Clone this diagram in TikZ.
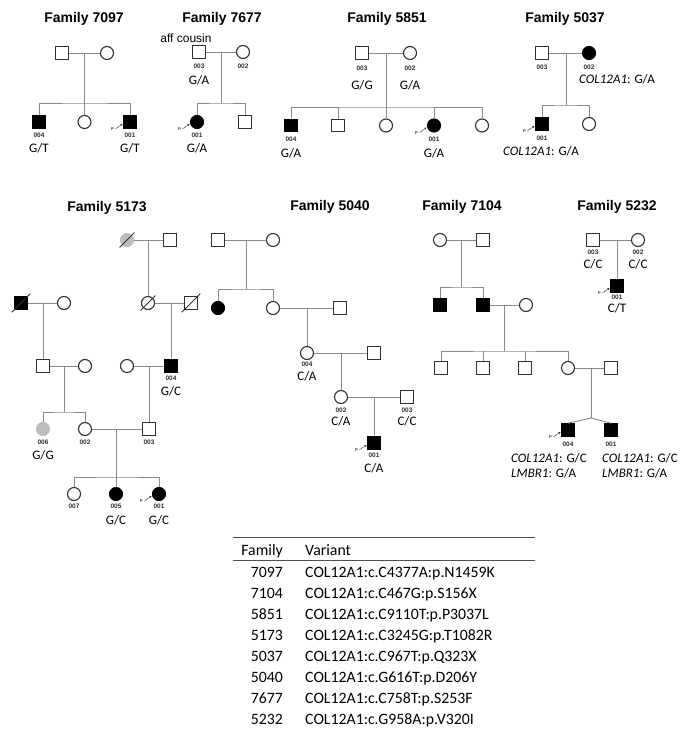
\documentclass[tikz,border=0pt]{standalone}
\usepackage{fontspec}
\setmainfont{Carlito}
\newfontfamily\arialf{Liberation Sans}
\usetikzlibrary{calc,arrows.meta}
\definecolor{connc}{HTML}{8A8A8A}
\definecolor{symb}{HTML}{303030}
\definecolor{grayfill}{HTML}{BDBDBD}
\tikzset{
  male/.style={rectangle,draw=symb,line width=1.1pt,minimum size=12.5pt,inner sep=0pt,fill=white},
  female/.style={circle,draw=symb,line width=1.1pt,minimum size=13pt,inner sep=0pt,fill=white},
  affected/.style={fill=black,draw=black},
  grayed/.style={fill=grayfill,draw=grayfill},
  rel/.style={draw=connc,line width=0.9pt},
  slash/.style={draw=symb,line width=0.9pt},
  ftitle/.style={font=\arialf\bfseries\fontsize{14}{16}\selectfont,inner sep=0pt},
  note/.style={font=\arialf\fontsize{12}{14}\selectfont,inner sep=0pt},
  idl/.style={font=\arialf\bfseries\fontsize{6.5}{7}\selectfont,text=symb,inner sep=0pt},
  geno/.style={font=\fontsize{13}{15}\selectfont,inner sep=0pt},
  tabt/.style={font=\fontsize{15.8}{18}\selectfont,inner sep=0pt},
  pletter/.style={font=\arialf\bfseries\fontsize{4}{4}\selectfont,inner sep=0pt,text=symb},
  parrow/.style={draw=symb,line width=0.6pt,dash pattern=on 1pt off 0.7pt,-{Stealth[length=2.5pt,width=2.2pt]}},
  rulel/.style={draw=symb!85,line width=1.1pt}
}
\newcommand\proband[1]{%
  \node[pletter] (#1P) at ($(#1)+(-17.5,7.5)$) {P};
  \draw[parrow] ($(#1)+(-14.5,7)$) -- ($(#1)+(-7.5,2)$);}
\newcommand\deceased[1]{%
  \draw[slash] ($(#1.south west)+(-2.5,2.5)$) -- ($(#1.north east)+(2.5,-2.5)$);}
\begin{document}
\begin{tikzpicture}[x=1pt,y=-1pt]
\useasboundingbox (0,0) rectangle (682,730);
\fill[white] (0,0) rectangle (682,730);

% ---------------- Family 7097
\node[ftitle] (t7097) at (84,19) {Family 7097};
\node[male] (a1) at (62,53) {};
\node[female] (a2) at (107,53) {};
\node[male,affected] (a3) at (39,122) {};
\node[female] (a4) at (84.5,122) {};
\node[male,affected] (a5) at (130,122) {};
\coordinate (am) at (84.5,53);
\coordinate (as) at (84.5,103);
\draw[rel] (a1) -- (a2);
\draw[rel] (am) -- (as);
\draw[rel] (a3.north) |- (as) -| (a5.north);
\draw[rel] (as) -- (a4.north);
\node[idl] (a3i) at (39,135) {004};
\node[idl] (a5i) at (130,135) {001};
\node[geno] (a3g) at (39,148) {G/T};
\node[geno] (a5g) at (130,148) {G/T};
\proband{a5}

% ---------------- Family 7677
\node[ftitle] (t7677) at (222,19) {Family 7677};
\node[note] (b0) at (186,38) {aff cousin};
\node[male] (b1) at (199,52) {};
\node[female] (b2) at (243,52) {};
\node[female,affected] (b3) at (197,122) {};
\node[male] (b4) at (245,122) {};
\coordinate (bm) at (221,52);
\coordinate (bs) at (221,103);
\draw[rel] (b1) -- (b2);
\draw[rel] (bm) -- (bs);
\draw[rel] (b3.north) |- (bs) -| (b4.north);
\node[idl] (b1i) at (199,66) {003};
\node[idl] (b2i) at (243,66) {002};
\node[geno] (b1g) at (199,80) {G/A};
\node[idl] (b3i) at (197,135) {001};
\node[geno] (b3g) at (197,148) {G/A};
\proband{b3}

% ---------------- Family 5851
\node[ftitle] (t5851) at (387,19) {Family 5851};
\node[male] (c1) at (362,53) {};
\node[female] (c2) at (410,53) {};
\node[male,affected] (c3) at (291,125.5) {};
\node[male] (c4) at (338,125.5) {};
\node[female] (c5) at (386,125.5) {};
\node[female,affected] (c6) at (434,125.5) {};
\node[female] (c7) at (482,125.5) {};
\coordinate (cm) at (386,53);
\coordinate (cs) at (386,107);
\draw[rel] (c1) -- (c2);
\draw[rel] (cm) -- (cs);
\draw[rel] (c3.north) |- (cs) -| (c7.north);
\draw[rel] (c4.north) -- (c4.north |- cs);
\draw[rel] (cs) -- (c5.north);
\draw[rel] (c6.north) -- (c6.north |- cs);
\node[idl] (c1i) at (362,68) {003};
\node[idl] (c2i) at (410,68) {002};
\node[geno] (c1g) at (362,85) {G/G};
\node[geno] (c2g) at (410,85) {G/A};
\node[idl] (c3i) at (291,139) {004};
\node[geno] (c3g) at (291,153) {G/A};
\node[idl] (c6i) at (434,139) {001};
\node[geno] (c6g) at (434,153) {G/A};
\proband{c6}

% ---------------- Family 5037
\node[ftitle] (t5037) at (565,19) {Family 5037};
\node[male] (d1) at (542,53) {};
\node[female,affected] (d2) at (589,53) {};
\node[male,affected] (d3) at (542,124) {};
\node[female] (d4) at (589,124) {};
\coordinate (dm) at (566,53);
\coordinate (ds) at (566,105);
\draw[rel] (d1) -- (d2);
\draw[rel] (dm) -- (ds);
\draw[rel] (d3.north) |- (ds) -| (d4.north);
\node[idl] (d1i) at (542,67) {003};
\node[idl] (d2i) at (589,67) {002};
\node[geno] (d2g) at (617,79) {\itshape COL12A1\upshape: G/A};
\node[idl] (d3i) at (542,138) {001};
\node[geno] (d3g) at (541,151) {\itshape COL12A1\upshape: G/A};
\proband{d3}

% ---------------- Family 5173
\node[ftitle] (t5173) at (107,208) {Family 5173};
\node[female,grayed] (e1) at (127,240) {};
\node[male] (e2) at (170,240) {};
\node[female] (e3) at (148,303) {};
\node[male] (e4) at (191,303) {};
\node[male,affected] (e5) at (171,366) {};
\node[male,affected] (e6) at (21,303) {};
\node[female] (e7) at (64,303) {};
\node[male] (e8) at (43,366) {};
\node[female] (e9) at (85,366) {};
\node[female,grayed] (e10) at (43,429) {};
\node[female] (e11) at (85,429) {};
\node[female] (e12) at (127,366) {};
\node[male] (e13) at (149,429) {};
\node[female] (e14) at (74,494) {};
\node[female,affected] (e15) at (116,494) {};
\node[female,affected] (e16) at (159,494) {};
\deceased{e1}
\deceased{e3}
\deceased{e4}
\deceased{e6}
\coordinate (e12m) at (148,240);
\coordinate (e34m) at (171,303);
\coordinate (e67m) at (43,303);
\coordinate (e89m) at (64,366);
\coordinate (e89s) at (64,412);
\coordinate (e125m) at (149,366);
\coordinate (e1113m) at (116,429);
\coordinate (e1113s) at (116,477);
\draw[rel] (e1) -- (e2);
\draw[rel] (e12m) -- (e3.north);
\draw[rel] (e3) -- (e4);
\draw[rel] (e34m) -- (e5.north);
\draw[rel] (e6) -- (e7);
\draw[rel] (e67m) -- (e8.north);
\draw[rel] (e8) -- (e9);
\draw[rel] (e89m) -- (e89s);
\draw[rel] (e10.north) |- (e89s) -| (e11.north);
\draw[rel] (e12) -- (e5);
\draw[rel] (e125m) -- (e13.north);
\draw[rel] (e11) -- (e13);
\draw[rel] (e1113m) -- (e1113s);
\draw[rel] (e14.north) |- (e1113s) -| (e16.north);
\draw[rel] (e1113s) -- (e15.north);
\node[idl] (e5i) at (171,378) {004};
\node[geno] (e5g) at (171,391) {G/C};
\node[idl] (e10i) at (43,442) {006};
\node[geno] (e10g) at (43,455) {G/G};
\node[idl] (e11i) at (85,442) {002};
\node[idl] (e13i) at (149,442) {003};
\node[idl] (e14i) at (74,506) {007};
\node[idl] (e15i) at (116,506) {005};
\node[idl] (e16i) at (159,506) {001};
\node[geno] (e15g) at (116,520) {G/C};
\node[geno] (e16g) at (159,520) {G/C};
\proband{e16}

% ---------------- Family 5040
\node[ftitle] (t5040) at (330,207) {Family 5040};
\node[male] (f1) at (218,240) {};
\node[female] (f2) at (273,240) {};
\node[female,affected] (f3) at (218,308) {};
\node[female] (f4) at (273,308) {};
\node[male] (f5) at (340,308) {};
\node[female] (f6) at (307,353) {};
\node[male] (f7) at (374,353) {};
\node[female] (f8) at (341,397) {};
\node[male] (f9) at (407,397) {};
\node[male,affected] (f10) at (374,443) {};
\coordinate (fm) at (246,240);
\coordinate (fs) at (246,289);
\coordinate (f45m) at (307,308);
\coordinate (f67m) at (341,353);
\coordinate (f89m) at (374,397);
\draw[rel] (f1) -- (f2);
\draw[rel] (fm) -- (fs);
\draw[rel] (f3.north) |- (fs) -| (f4.north);
\draw[rel] (f4) -- (f5);
\draw[rel] (f45m) -- (f6.north);
\draw[rel] (f6) -- (f7);
\draw[rel] (f67m) -- (f8.north);
\draw[rel] (f8) -- (f9);
\draw[rel] (f89m) -- (f10.north);
\node[idl] (f6i) at (307,364) {004};
\node[geno] (f6g) at (307,376) {C/A};
\node[idl] (f8i) at (341,410) {002};
\node[geno] (f8g) at (341,421) {C/A};
\node[idl] (f9i) at (407,410) {003};
\node[geno] (f9g) at (407,421) {C/C};
\node[idl] (f10i) at (374,455) {001};
\node[geno] (f10g) at (374,468) {C/A};
\proband{f10}

% ---------------- Family 7104
\node[ftitle] (t7104) at (462,207) {Family 7104};
\node[female] (g1) at (440,240) {};
\node[male] (g2) at (483,240) {};
\node[male,affected] (g3) at (440,305) {};
\node[male,affected] (g4) at (483,305) {};
\node[female] (g5) at (526,305) {};
\node[male] (g6) at (441,368) {};
\node[male] (g7) at (483,368) {};
\node[male] (g8) at (525,368) {};
\node[female] (g9) at (568,368) {};
\node[male] (g10) at (611,368) {};
\node[male,affected] (g11) at (568,430) {};
\node[male,affected] (g12) at (611,430) {};
\coordinate (gm) at (461.5,240);
\coordinate (gs) at (461.5,287);
\coordinate (g45m) at (504,305);
\coordinate (g45s) at (504,351);
\coordinate (g910m) at (591,368);
\coordinate (gapex) at (591,418);
\draw[rel] (g1) -- (g2);
\draw[rel] (gm) -- (gs);
\draw[rel] (g3.north) |- (gs) -| (g4.north);
\draw[rel] (g4) -- (g5);
\draw[rel] (g45m) -- (g45s);
\draw[rel] (g6.north) |- (g45s) -| (g9.north);
\draw[rel] (g7.north) -- (g7.north |- g45s);
\draw[rel] (g8.north) -- (g8.north |- g45s);
\draw[rel] (g9) -- (g10);
\draw[rel] (g910m) -- (gapex);
\draw[rel] (gapex) -- (g11.north);
\draw[rel] (gapex) -- (g12.north);
\node[idl] (g11i) at (568,444) {004};
\node[idl] (g12i) at (611,444) {001};
\node[geno,anchor=west] (g11a) at (511,458) {\itshape COL12A1\upshape: G/C};
\node[geno,anchor=west] (g11b) at (511,473) {\itshape LMBR1\upshape: G/A};
\node[geno,anchor=west] (g12a) at (602,458) {\itshape COL12A1\upshape: G/C};
\node[geno,anchor=west] (g12b) at (602,473) {\itshape LMBR1\upshape: G/A};
\proband{g11}

% ---------------- Family 5232
\node[ftitle] (t5232) at (617,207) {Family 5232};
\node[male] (h1) at (593,240) {};
\node[female] (h2) at (638,240) {};
\node[male,affected] (h3) at (617,286) {};
\coordinate (hm) at (617,240);
\draw[rel] (h1) -- (h2);
\draw[rel] (hm) -- (h3.north);
\node[idl] (h1i) at (593,252) {003};
\node[idl] (h2i) at (638,252) {002};
\node[geno] (h1g) at (593,264) {C/C};
\node[geno] (h2g) at (638,264) {C/C};
\node[idl] (h3i) at (617,297) {001};
\node[geno] (h3g) at (617,308) {C/T};
\proband{h3}

% ---------------- Table
\draw[rulel] (233,537.5) -- (535,537.5);
\draw[rulel] (233,560.5) -- (535,560.5);
\node[tabt,anchor=base east] (th1) at (283,555.5) {Family};
\node[tabt,anchor=base west] (th2) at (305,555.5) {Variant};
\foreach \fam/\var [count=\i] in {
  7097/{COL12A1:c.C4377A:p.N1459K},
  7104/{COL12A1:c.C467G:p.S156X},
  5851/{COL12A1:c.C9110T:p.P3037L},
  5173/{COL12A1:c.C3245G:p.T1082R},
  5037/{COL12A1:c.C967T:p.Q323X},
  5040/{COL12A1:c.G616T:p.D206Y},
  7677/{COL12A1:c.C758T:p.S253F},
  5232/{COL12A1:c.G958A:p.V320I}} {
  \node[tabt,anchor=base east] (ra\i) at (283,{556+21.0*\i}) {\fam};
  \node[tabt,anchor=base west] (rb\i) at (305,{556+21.0*\i}) {\var};
}
\end{tikzpicture}
\end{document}
